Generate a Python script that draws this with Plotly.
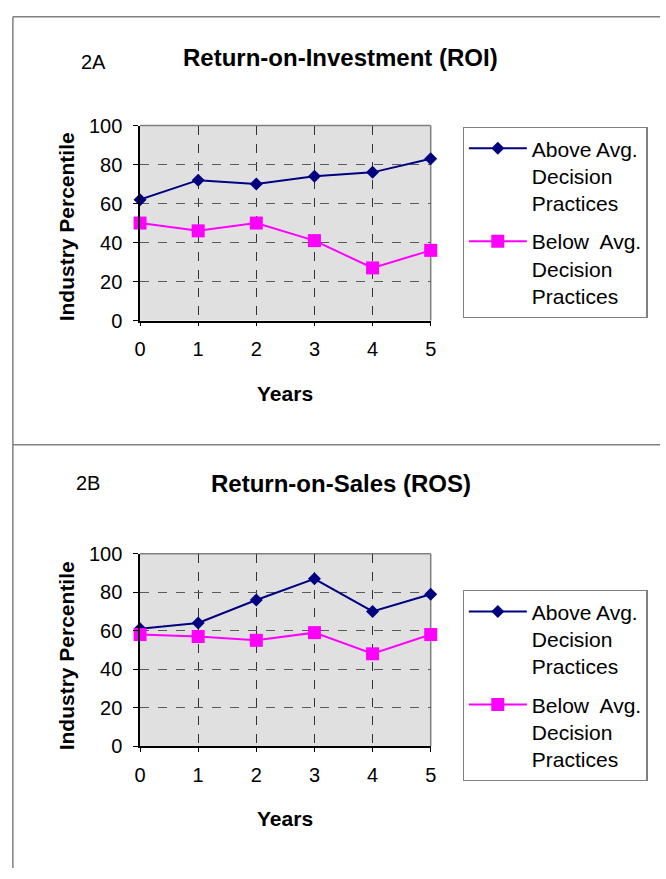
import plotly.graph_objects as go

years = [0, 1, 2, 3, 4, 5]
roi_above = [62, 72, 70, 74, 76, 83]
roi_below = [50, 46, 50, 41, 27, 36]
ros_above = [61, 64, 76, 87, 70, 79]
ros_below = [58, 57, 55, 59, 48, 58]
name_above = "Above Avg.<br>Decision<br>Practices"
name_below = "Below  Avg.<br>Decision<br>Practices"
y_ticks = [0, 20, 40, 60, 80, 100]

W, H = 666, 879
FONT = "Liberation Sans, Arial, sans-serif"
NAVY = "#000080"
MAG = "#FF00FF"


def px(x):
    return x / W


def py(y):
    return 1 - y / H


fig = go.Figure()

traces = [
    (roi_above, NAVY, "diamond", 10, name_above, "x", "y", "legend", "a1"),
    (roi_below, MAG, "square", 13, name_below, "x", "y", "legend", "b1"),
    (ros_above, NAVY, "diamond", 10, name_above, "x2", "y2", "legend2", "a2"),
    (ros_below, MAG, "square", 13, name_below, "x2", "y2", "legend2", "b2"),
]
for vals, col, sym, sz, nm, xa, ya, lg, grp in traces:
    fig.add_trace(go.Scatter(
        x=years, y=vals, mode="lines+markers", name=nm,
        line=dict(color=col, width=2),
        marker=dict(color=col, symbol=sym, size=sz, line=dict(width=0)),
        xaxis=xa, yaxis=ya, legend=lg, legendgroup=grp, cliponaxis=False,
    ))

xdom = [px(136.5), px(432.5)]
ydom_top = [py(317.5), py(117.5)]
ydom_bot = [py(754), py(556.7)]

xax = dict(
    range=[0, 5], tickmode="array", tickvals=years, showgrid=True,
    gridcolor="#333333", griddash="dash", gridwidth=1,
    showline=True, linecolor="black", linewidth=1.5,
    ticks="outside", ticklen=4, tickcolor="black",
    tickfont=dict(family=FONT, size=20, color="black"),
    ticklabelstandoff=6, zeroline=False, fixedrange=True,
)
yax = dict(
    range=[0, 100], tickmode="array", tickvals=y_ticks, showgrid=True,
    gridcolor="#5a5a5a", griddash="dash", gridwidth=1.3,
    showline=True, linecolor="black", linewidth=1.5,
    ticks="outside", ticklen=5, tickcolor="black",
    tickfont=dict(family=FONT, size=20, color="black"),
    ticklabelstandoff=7, zeroline=False, fixedrange=True,
)

legend_common = dict(
    bgcolor="white", bordercolor="#808080", borderwidth=1.2,
    font=dict(family=FONT, size=21, color="black"),
    xanchor="left", yanchor="top", traceorder="grouped", tracegroupgap=8,
    itemwidth=58, valign="top",
)

fig.update_layout(
    width=W, height=H, margin=dict(l=0, r=0, t=0, b=0),
    paper_bgcolor="white", plot_bgcolor="#E0E0E0",
    xaxis=dict(xax, domain=xdom, anchor="y"),
    yaxis=dict(yax, domain=ydom_top, anchor="x"),
    xaxis2=dict(xax, domain=xdom, anchor="y2"),
    yaxis2=dict(yax, domain=ydom_bot, anchor="x2"),
    legend=dict(legend_common, x=px(465), y=py(119)),
    legend2=dict(legend_common, x=px(465), y=py(594)),
    showlegend=True,
)

shapes = []
# frame lines
shapes.append(dict(type="line", xref="paper", yref="paper", x0=px(7), x1=px(7), y0=py(6), y1=0,
                   line=dict(color="#808080", width=1.5)))
shapes.append(dict(type="line", xref="paper", yref="paper", x0=px(7), x1=1, y0=py(6), y1=py(6),
                   line=dict(color="#808080", width=1.5)))
shapes.append(dict(type="line", xref="paper", yref="paper", x0=px(7), x1=1, y0=py(445), y1=py(445),
                   line=dict(color="#808080", width=1.5)))
# gray top/right plot borders
for xa, ya in [("x", "y"), ("x2", "y2")]:
    shapes.append(dict(type="line", xref=xa + " domain", yref=ya + " domain", x0=0, x1=1, y0=1, y1=1,
                       line=dict(color="#808080", width=1.5), layer="below"))
    shapes.append(dict(type="line", xref=xa + " domain", yref=ya + " domain", x0=1, x1=1, y0=0, y1=1,
                       line=dict(color="#808080", width=1.5), layer="below"))
fig.update_layout(shapes=shapes)

ann = []


def text(t, x, y, size, bold=False, angle=0):
    ann.append(dict(text=f"<b>{t}</b>" if bold else t, x=px(x), y=py(y), xref="paper", yref="paper",
                    showarrow=False, xanchor="center", yanchor="middle", textangle=angle,
                    font=dict(family=FONT, size=size, color="black")))


text("Return-on-Investment (ROI)", 341, 48, 24, bold=True)
text("2A", 89, 52, 20)
text("Industry Percentile", 62, 221, 21, bold=True, angle=-90)
text("Years", 284, 392, 21, bold=True)
text("Return-on-Sales (ROS)", 341, 485, 24, bold=True)
text("2B", 84, 484, 20)
text("Industry Percentile", 62, 661, 21, bold=True, angle=-90)
text("Years", 284, 828, 21, bold=True)
fig.update_layout(annotations=ann)

fig.write_html("out.html", config={"displayModeBar": False},
               post_script="document.body.style.margin='0px';")
